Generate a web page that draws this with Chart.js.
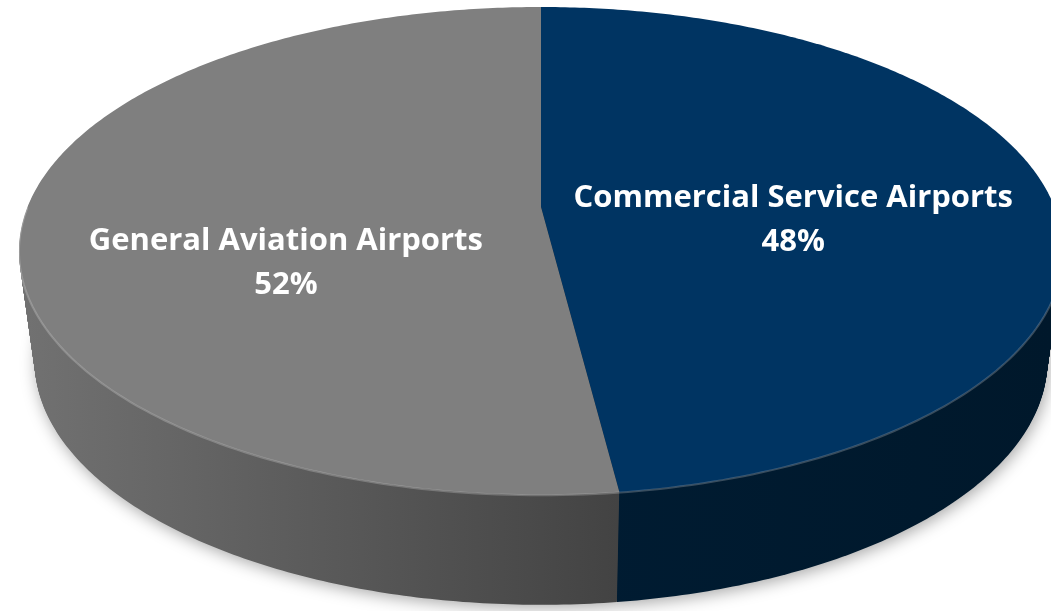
<!DOCTYPE html>
<html>
<head>
<meta charset="utf-8">
<script src="https://cdn.jsdelivr.net/npm/chart.js@4.4.1/dist/chart.umd.min.js"></script>
<style>
  html, body { margin: 0; padding: 0; background: #fff; }
  canvas { display: block; }
</style>
</head>
<body>
<canvas id="pie" width="1051" height="611"></canvas>
<script>
const categories = ['Commercial Service Airports', 'General Aviation Airports'];
const shares = [48, 52];
const topColors = ['#003462', '#7f7f7f'];
const sideStops = [
  [[0, '#00203a'], [1, '#00182b']],
  [[0, '#717171'], [0.6, '#414141'], [1, '#333333']]
];

// disc seen from above at an angle: sx/sy relative to the pie radius,
// p = perspective strength, depth = wall height in px
const view = { sx: 2.5675, sy: 1.18, p: 0.18, depth: 110, shrink: 0.03 };

// canvas angle on the flat pie -> point on the tilted disc
function project(arc, t, f, dy, k) {
  const u = Math.cos(t) * f, v = Math.sin(t) * f;
  const w = 1 - view.p * v;
  return {
    x: arc.x + k * view.sx * arc.outerRadius * u / w,
    y: arc.y + view.sy * arc.outerRadius * v / w + dy
  };
}

function wedgePath(ctx, arc, dy, k) {
  const steps = Math.max(8, Math.ceil((arc.endAngle - arc.startAngle) * 90));
  ctx.beginPath();
  ctx.moveTo(arc.x, arc.y + dy);
  for (let s = 0; s <= steps; s++) {
    const t = arc.startAngle + (arc.endAngle - arc.startAngle) * s / steps;
    const pt = project(arc, t, 1, dy, k);
    ctx.lineTo(pt.x, pt.y);
  }
  ctx.closePath();
}

const disc3d = {
  id: 'disc3d',
  beforeDatasetsDraw(chart, args, opts) {
    const ctx = chart.ctx;
    const arcs = chart.getDatasetMeta(0).data;
    const r = arcs[0].outerRadius;
    const left = arcs[0].x - view.sx * r, right = arcs[0].x + view.sx * r;

    // wall: slices stacked from the bottom up
    for (let d = view.depth; d >= 1; d--) {
      const k = 1 - view.shrink * d / view.depth;
      ctx.save();
      if (d === view.depth) {
        ctx.shadowColor = 'rgba(0,0,0,0.35)';
        ctx.shadowBlur = 16;
        ctx.shadowOffsetX = 2;
        ctx.shadowOffsetY = 3;
      }
      arcs.forEach((arc, i) => {
        const g = ctx.createLinearGradient(left, 0, right, 0);
        sideStops[i].forEach(s => g.addColorStop(s[0], s[1]));
        ctx.fillStyle = g;
        wedgePath(ctx, arc, d, k);
        ctx.fill();
      });
      ctx.restore();
    }

    // top face
    arcs.forEach(arc => {
      ctx.fillStyle = arc.options.backgroundColor;
      wedgePath(ctx, arc, 0, 1);
      ctx.fill();
    });

    // soft bevel along the front rim
    ctx.save();
    ctx.strokeStyle = 'rgba(255,255,255,0.22)';
    ctx.lineWidth = 2;
    ctx.beginPath();
    for (let s = 0; s <= 180; s++) {
      const pt = project(arcs[0], Math.PI * s / 180, 1, 0.5, 1);
      if (s === 0) ctx.moveTo(pt.x, pt.y); else ctx.lineTo(pt.x, pt.y);
    }
    ctx.stroke();
    ctx.restore();

    // labels
    const total = shares.reduce((a, b) => a + b, 0);
    ctx.save();
    ctx.fillStyle = '#ffffff';
    ctx.textAlign = 'center';
    ctx.textBaseline = 'alphabetic';
    ctx.font = opts.font;
    arcs.forEach((arc, i) => {
      const mid = (arc.startAngle + arc.endAngle) / 2;
      const pt = project(arc, mid, opts.reach, 0, 1);
      const y = pt.y + opts.shift[i];
      ctx.fillText(categories[i], pt.x, y);
      ctx.fillText(Math.round(shares[i] / total * 100) + '%', pt.x, y + opts.lineGap);
    });
    ctx.restore();

    return false;
  }
};

new Chart(document.getElementById('pie'), {
  type: 'pie',
  data: {
    labels: categories,
    datasets: [{
      data: shares,
      backgroundColor: topColors,
      borderWidth: 0,
      hoverOffset: 0,
      offset: 0
    }]
  },
  options: {
    responsive: false,
    animation: false,
    events: [],
    layout: { padding: { left: 341, right: 310, top: 7, bottom: 204 } },
    plugins: {
      legend: { display: false },
      tooltip: { enabled: false },
      disc3d: {
        font: 'bold 31px "Open Sans"',
        reach: 0.495,
        lineGap: 44,
        shift: [7, 36]
      }
    }
  },
  plugins: [disc3d]
});
</script>
</body>
</html>
